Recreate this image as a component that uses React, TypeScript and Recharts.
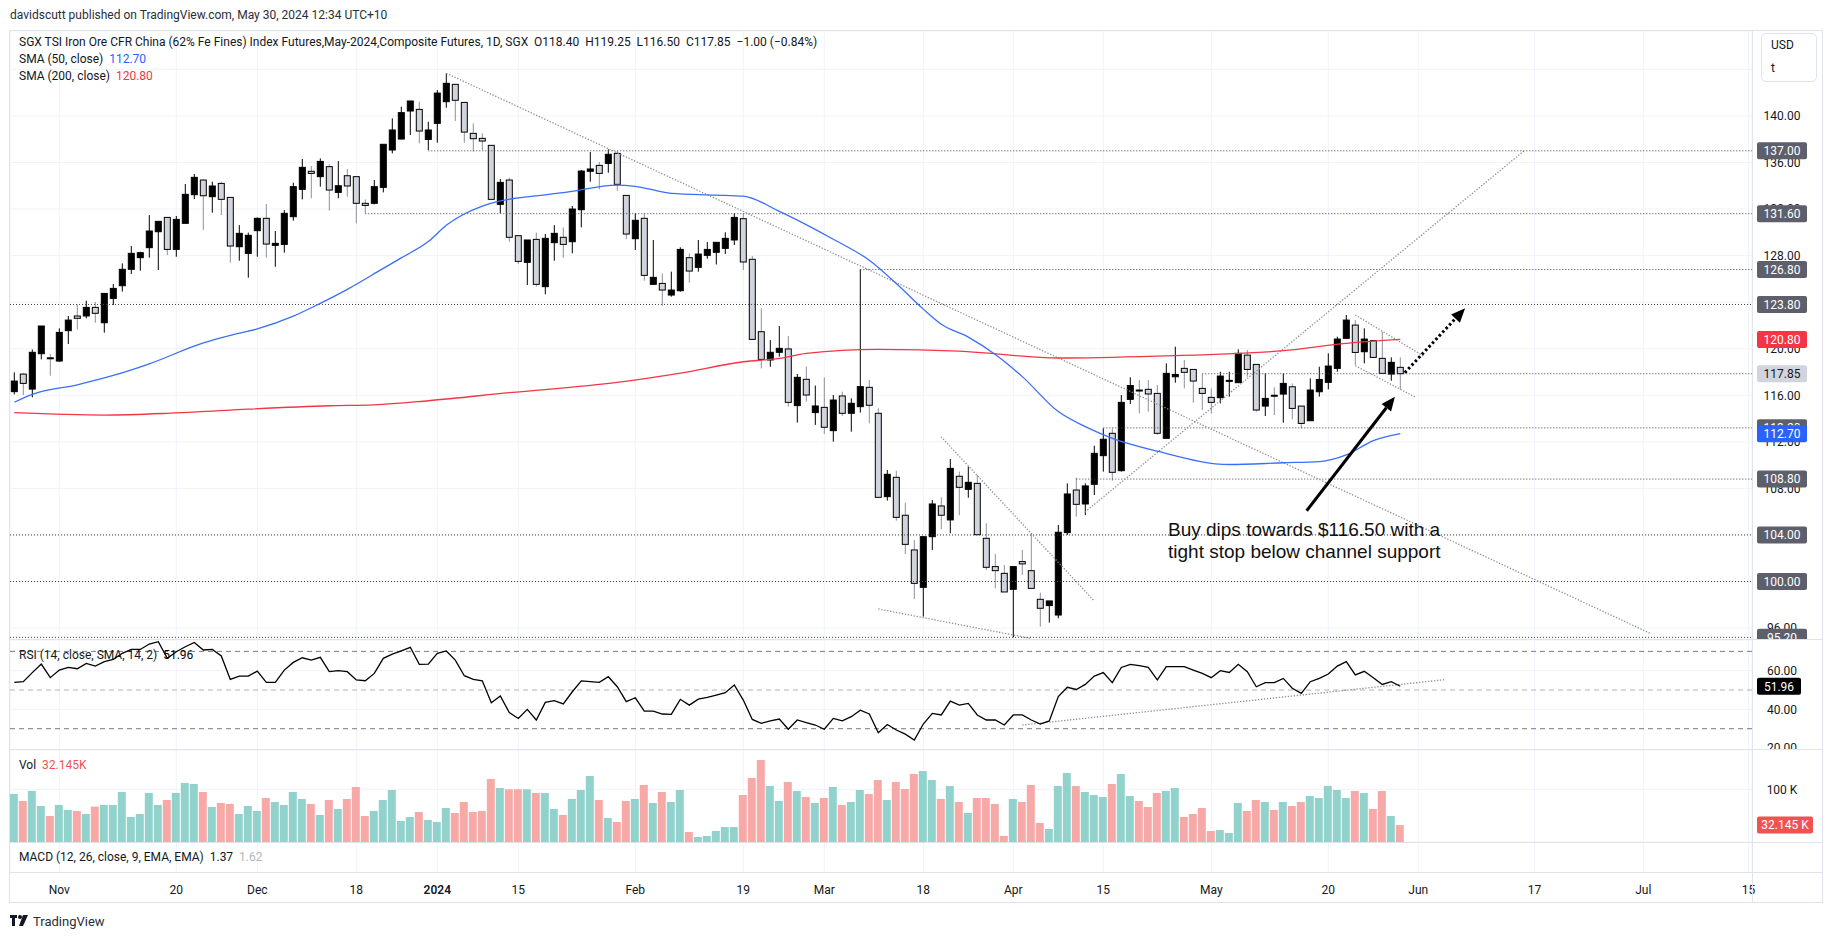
import React from "react";
import { ComposedChart, Bar, Line, XAxis, YAxis, CartesianGrid, ReferenceLine, Cell } from "recharts";

const FONT = "Roboto, 'Liberation Sans', Arial, sans-serif";
const TEXT = "#131722";
const GRID = "#f0f3fa";
const BORDER = "#e0e3eb";

// ---- daily bars, Oct 25 2023 .. May 30 2024 (index 0..154) ----
const OPEN = [
  116.31, 117.82, 116.53, 119.57, 119.22, 118.94, 121.55, 122.81, 122.81, 123.55,
  122.23, 124.32, 125.41, 126.82, 127.82, 128.68, 130.05, 131.28, 128.53, 130.77,
  133.23, 134.49, 133.06, 134.2, 133.0, 128.76, 128.19, 130.14, 131.2, 128.88,
  128.96, 131.34, 133.69, 135.24, 134.78, 135.64, 133.43, 134.86, 134.78, 132.49,
  132.49, 133.86, 137.07, 138.01, 140.42, 140.56, 137.98, 139.36, 141.22, 142.71,
  141.16, 138.5, 138.07, 137.47, 132.4, 134.49, 129.71, 127.42, 129.39, 125.33,
  129.11, 129.57, 129.19, 131.94, 135.24, 135.75, 135.92, 136.78, 133.17, 129.45,
  131.2, 125.53, 125.61, 124.61, 124.98, 127.82, 126.99, 128.02, 128.28, 128.62,
  129.34, 131.17, 127.68, 121.46, 119.03, 119.69, 119.98, 115.11, 117.37, 114.51,
  114.96, 112.96, 115.94, 114.45, 115.02, 116.68, 114.45, 107.29, 108.95, 105.69,
  102.71, 99.5, 103.85, 106.49, 105.29, 109.04, 107.92, 108.43, 103.71, 101.28,
  100.7, 99.33, 101.71, 100.93, 98.47, 97.93, 97.12, 104.2, 107.86, 106.66,
  108.35, 110.81, 112.73, 109.52, 115.65, 116.45, 116.51, 116.16, 112.3, 117.59,
  118.31, 118.22, 116.59, 115.82, 115.79, 117.22, 117.08, 119.45, 118.65, 115.07,
  116.0, 116.1, 116.73, 115.07, 113.81, 116.3, 117.11, 118.31, 120.89, 122.03,
  119.74, 120.69, 119.17, 117.82, 118.4,
];
const HIGH = [
  117.97, 117.9, 119.94, 121.95, 119.54, 121.75, 122.81, 123.81, 124.12, 124.01,
  124.75, 125.56, 127.33, 128.82, 128.33, 131.48, 130.94, 131.28, 131.4, 134.15,
  135.01, 134.55, 134.35, 134.35, 133.0, 130.62, 129.97, 131.28, 132.43, 130.11,
  131.91, 134.26, 136.3, 135.69, 136.35, 135.84, 136.12, 135.44, 134.78, 132.83,
  134.49, 137.56, 139.79, 140.79, 141.28, 141.22, 139.5, 142.22, 143.65, 142.71,
  141.16, 139.36, 138.5, 137.47, 134.58, 134.69, 129.71, 129.34, 129.97, 129.85,
  130.62, 130.42, 132.26, 135.35, 136.9, 136.04, 137.13, 136.98, 133.17, 131.63,
  131.63, 129.34, 126.47, 126.62, 128.71, 128.19, 129.34, 129.16, 129.14, 130.0,
  131.63, 131.63, 127.96, 123.47, 120.74, 121.95, 121.09, 117.83, 118.46, 116.83,
  117.54, 116.02, 116.31, 115.74, 126.82, 117.31, 114.88, 109.58, 109.52, 106.77,
  103.57, 103.85, 107.0, 107.23, 110.53, 109.44, 109.87, 109.15, 105.0, 102.36,
  101.42, 101.28, 102.71, 104.14, 99.04, 98.33, 104.86, 108.43, 108.92, 108.43,
  111.67, 113.16, 113.16, 116.02, 117.54, 117.31, 117.31, 116.88, 118.74, 120.17,
  119.03, 118.22, 117.82, 116.59, 118.02, 118.02, 119.94, 119.88, 118.65, 117.88,
  116.68, 117.88, 117.02, 115.07, 117.45, 118.45, 119.6, 121.03, 122.89, 122.46,
  121.75, 120.74, 121.46, 119.25, 119.25,
];
const LOW = [
  116.08, 116.02, 115.82, 119.08, 117.68, 118.88, 120.4, 121.66, 122.61, 122.23,
  121.38, 123.75, 124.9, 126.42, 126.7, 127.82, 126.76, 128.05, 127.9, 130.77,
  132.86, 130.2, 131.68, 131.48, 127.39, 127.56, 126.1, 127.9, 127.82, 127.04,
  128.25, 131.0, 132.83, 132.92, 133.92, 131.86, 132.92, 133.06, 130.77, 131.63,
  132.4, 133.43, 136.78, 138.01, 138.36, 137.64, 137.07, 137.7, 140.7, 139.56,
  137.7, 136.93, 137.07, 132.83, 131.63, 129.19, 127.27, 125.47, 125.33, 124.67,
  127.56, 127.82, 128.19, 130.42, 134.35, 133.69, 135.12, 133.57, 129.42, 128.48,
  125.84, 125.53, 123.69, 124.47, 124.9, 125.67, 126.62, 127.73, 127.24, 128.13,
  128.91, 126.76, 120.8, 118.31, 118.45, 119.32, 115.02, 113.65, 115.45, 113.45,
  112.67, 112.01, 114.22, 112.87, 114.51, 113.59, 107.23, 106.95, 105.23, 102.36,
  98.5, 96.98, 102.71, 104.48, 104.14, 105.71, 107.2, 104.02, 100.99, 99.41,
  99.1, 95.2, 100.56, 99.41, 96.12, 96.47, 96.84, 104.0, 105.57, 105.71,
  107.43, 109.44, 108.66, 109.44, 115.25, 114.45, 114.59, 112.6, 112.3, 117.08,
  116.59, 115.36, 114.73, 114.44, 115.3, 115.88, 117.08, 117.59, 114.59, 114.22,
  114.3, 113.64, 113.93, 113.15, 113.81, 115.88, 116.51, 118.02, 120.89, 118.6,
  118.74, 119.25, 117.88, 117.25, 116.5,
];
const CLOSE = [
  117.22, 117.02, 119.69, 121.95, 119.15, 121.4, 122.46, 122.61, 123.55, 123.04,
  124.75, 125.18, 126.82, 128.19, 128.25, 130.11, 130.94, 128.53, 131.11, 133.26,
  134.72, 133.14, 133.98, 132.83, 128.82, 129.91, 129.74, 131.2, 128.99, 129.05,
  131.63, 133.92, 135.58, 135.06, 136.09, 133.63, 134.0, 133.98, 132.49, 132.31,
  133.92, 137.56, 138.79, 140.28, 141.28, 138.7, 138.79, 141.96, 142.8, 141.34,
  138.61, 138.04, 137.84, 132.83, 134.29, 129.57, 127.5, 129.34, 125.53, 129.48,
  129.91, 128.96, 132.0, 135.26, 135.44, 135.06, 136.7, 134.12, 129.85, 131.03,
  126.3, 126.13, 125.04, 125.04, 128.53, 126.67, 128.13, 128.53, 129.14, 129.48,
  131.28, 127.45, 120.8, 119.08, 119.69, 120.03, 115.39, 117.54, 116.02, 115.08,
  113.25, 115.59, 114.45, 115.31, 116.74, 115.14, 107.23, 109.21, 105.51, 103.19,
  99.84, 103.85, 106.66, 105.69, 109.72, 108.09, 108.52, 104.02, 101.22, 100.93,
  99.1, 101.28, 101.51, 99.41, 97.7, 98.33, 104.23, 107.52, 106.63, 108.21,
  111.01, 112.22, 109.38, 115.39, 116.83, 116.4, 116.11, 112.73, 117.88, 117.79,
  117.97, 117.22, 116.16, 115.39, 117.65, 117.28, 119.6, 118.22, 114.73, 115.73,
  115.93, 117.02, 114.87, 113.58, 116.45, 117.36, 118.51, 120.83, 122.46, 119.68,
  120.83, 119.25, 117.88, 118.83, 117.85,
];
// volume in thousands
const VOLUME = [
  91.1, 77.8, 96.8, 68.4, 49.4, 70.3, 60.8, 58.9, 53.2, 67.1,
  70.3, 70.3, 94.9, 47.5, 53.2, 93.0, 70.3, 79.7, 93.0, 112.0,
  110.1, 94.9, 66.5, 74.1, 72.2, 53.2, 68.4, 58.9, 83.5, 75.9,
  70.3, 94.9, 81.6, 72.2, 51.3, 79.7, 62.7, 81.6, 104.4, 49.4,
  58.9, 79.7, 98.7, 39.9, 47.5, 57.0, 41.8, 38.0, 64.6, 55.1,
  75.9, 57.0, 58.9, 119.6, 102.5, 100.0, 100.0, 100.0, 93.0, 93.0,
  62.7, 51.3, 81.6, 98.7, 125.3, 79.7, 45.6, 38.0, 77.8, 81.6,
  108.2, 74.1, 94.9, 75.9, 98.7, 19.0, 9.5, 11.4, 20.9, 28.5,
  28.5, 89.2, 121.5, 155.7, 106.3, 77.8, 113.9, 96.8, 85.4, 74.1,
  83.5, 104.4, 70.3, 75.9, 98.7, 91.1, 117.7, 79.7, 113.9, 100.6,
  129.1, 134.8, 117.7, 81.6, 106.3, 75.9, 55.1, 83.5, 83.5, 72.2,
  11.4, 81.6, 75.9, 108.2, 36.1, 24.7, 106.3, 131.0, 106.3, 94.9,
  89.2, 85.4, 110.1, 129.1, 87.3, 77.8, 66.5, 93.0, 96.8, 102.5,
  47.5, 53.2, 64.6, 20.9, 22.8, 17.1, 74.1, 58.9, 79.7, 75.9,
  60.8, 75.9, 68.4, 75.9, 87.3, 83.5, 106.3, 98.7, 83.5, 96.8,
  93.0, 62.7, 96.8, 49.4, 32.145,
];
const RSI = [
  54.0, 54.3, 59.0, 63.4, 56.4, 60.3, 61.7, 61.0, 63.8, 62.4,
  64.7, 65.9, 69.0, 71.0, 71.0, 73.8, 75.0, 66.4, 69.8, 72.4,
  74.6, 70.7, 71.0, 67.6, 55.5, 57.2, 57.2, 59.8, 54.0, 54.0,
  60.3, 64.3, 66.7, 65.5, 66.9, 59.5, 60.0, 59.5, 55.2, 54.8,
  58.6, 66.4, 68.6, 70.3, 72.1, 63.3, 63.4, 69.0, 70.2, 65.5,
  57.4, 55.5, 54.8, 43.4, 46.9, 38.3, 35.3, 40.0, 34.5, 43.6,
  44.5, 42.8, 49.1, 54.7, 54.3, 54.0, 56.9, 51.7, 44.0, 46.0,
  39.1, 39.1, 37.6, 37.4, 45.2, 42.2, 45.3, 46.2, 47.4, 48.6,
  52.6, 44.8, 34.8, 32.8, 34.1, 35.0, 29.7, 34.5, 33.1, 31.9,
  29.7, 35.3, 34.1, 36.2, 39.6, 37.6, 27.9, 32.2, 29.3, 27.2,
  24.1, 32.4, 37.9, 37.1, 44.3, 42.2, 43.1, 37.1, 34.5, 34.5,
  31.9, 37.1, 37.1, 34.5, 32.4, 34.0, 46.6, 51.4, 50.3, 52.9,
  57.2, 59.0, 53.8, 61.7, 63.3, 62.6, 61.7, 55.2, 62.1, 62.1,
  62.1, 60.3, 58.6, 56.4, 60.0, 59.1, 63.3, 59.5, 51.7, 53.8,
  53.8, 56.0, 50.9, 48.3, 54.3, 56.0, 58.3, 62.4, 64.7, 57.8,
  59.7, 56.4, 52.9, 54.3, 51.96,
];

// moving averages, read at points along the lines
const SMA50_IDX = [0, 2, 7, 11, 15, 21, 24, 27, 31, 34, 37, 41, 43, 46, 48, 52, 54, 57, 61, 67, 69, 73, 78, 81, 85, 91, 95, 98, 101, 103, 106, 109, 112, 116, 119, 122, 127, 135, 141, 145, 148, 151, 154];
const SMA50_VAL = [115.4, 116.08, 116.9, 117.7, 118.7, 120.5, 121.15, 121.7, 122.8, 123.9, 125.1, 126.9, 127.8, 129.2, 130.6, 132.25, 132.7, 133.05, 133.4, 134.06, 133.95, 133.35, 133.2, 133.1, 131.8, 129.4, 127.6, 125.6, 123.4, 122.1, 121.0, 119.5, 117.6, 114.6, 113.3, 112.3, 111.2, 110.05, 110.2, 110.3, 110.87, 112.1, 112.7];
const SMA200_IDX = [0, 10, 17, 24, 35, 40, 46, 55, 67, 74, 81, 85, 88, 96, 105, 116, 127, 141, 148, 154];
const SMA200_VAL = [114.5, 114.3, 114.45, 114.73, 115.1, 115.18, 115.53, 116.22, 117.1, 117.9, 118.88, 119.17, 119.6, 119.95, 119.8, 119.2, 119.37, 119.83, 120.46, 120.8];

// x axis
const XMIN = -0.478;
const XMAX = 193.078;
const TICK_IDX = [5, 18, 27, 38, 47, 56, 69, 81, 90, 101, 111, 121, 133, 146, 156, 168.9, 181, 192.7];
const TICK_LABELS = ["Nov", "20", "Dec", "18", "2024", "15", "Feb", "19", "Mar", "18", "Apr", "15", "May", "20", "Jun", "17", "Jul", "15"];

// price axis
const PRICE_TICKS = [96, 100, 104, 108, 112, 116, 120, 124, 128, 132, 136, 140, 144];
const LEVEL_PRICE = [137.0, 131.6, 126.8, 123.8, 117.85, 113.2, 108.8, 104.0, 100.0, 95.2];
const LEVEL_FROM = [46, 39, 94, XMIN, 132, 121, 118, XMIN, XMIN, XMIN];

// drawn trend lines: [x1, p1, x2, p2]
const TRENDS = [
  [48.0, 143.66, 181.7, 95.57],
  [118.97, 105.97, 167.86, 137.07],
  [149.0, 122.9, 156.7, 119.31],
  [149.0, 118.54, 155.8, 115.79],
  [102.97, 112.44, 119.9, 98.41],
  [96.0, 97.64, 112.9, 95.12],
];
const ARROW_SOLID = [143.6, 106.08, 153.4, 115.88];
const ARROW_DOTTED = [154.5, 117.94, 161.2, 123.47];
const RSI_TREND = [112, 31.9, 159, 55.4];

const sma50 = new Map(SMA50_IDX.map((k, j) => [k, SMA50_VAL[j]]));
const sma200 = new Map(SMA200_IDX.map((k, j) => [k, SMA200_VAL[j]]));

const data = OPEN.map((o, i) => ({
  i,
  o,
  h: HIGH[i],
  l: LOW[i],
  c: CLOSE[i],
  range: [LOW[i], HIGH[i]],
  s50: sma50.has(i) ? sma50.get(i) : null,
  s200: sma200.has(i) ? sma200.get(i) : null,
  v: VOLUME[i],
  rsi: RSI[i],
}));

const SVG_W = 1812;
const AXIS_W = 70;

function Candle(props: any) {
  const { x, y, width, height, payload } = props;
  if (!payload || x == null) return null;
  const top = height < 0 ? y + height : y;
  const hgt = Math.abs(height);
  const { o, h, l, c } = payload;
  const py = (v: number) => top + ((h - v) / (h - l || 1)) * hgt;
  const up = c >= o;
  const b1 = py(Math.max(o, c));
  const b2 = py(Math.min(o, c));
  const cx = x + width / 2;
  return (
    <g>
      <line x1={cx} x2={cx} y1={top} y2={top + hgt} stroke={up ? "#000" : "#8d9099"} strokeWidth={1} />
      <rect x={x + 0.5} y={b1} width={width - 1} height={Math.max(b2 - b1, 1)} fill={up ? "#000" : "#d1d4dc"} stroke="#000" strokeWidth={1} />
    </g>
  );
}

function axisTag(text: string, bg: string | null, fg: string, w = 50) {
  return (p: any) => {
    const vb = p.viewBox || {};
    const right = (vb.x || 0) + (vb.width || 0);
    const y = vb.y || 0;
    return (
      <g>
        {bg ? <rect x={right + 5} y={y - 8.5} width={w} height={17} rx={2} fill={bg} /> : null}
        <text x={right + 5 + w / 2} y={y + 4.3} textAnchor="middle" fontSize={12} fontFamily={FONT} fill={fg}>
          {text}
        </text>
      </g>
    );
  };
}

function arrowShape(dashed: boolean) {
  return (p: any) => {
    const { x1, y1, x2, y2 } = p;
    const ang = Math.atan2(y2 - y1, x2 - x1);
    const len = 14;
    const half = 6;
    const bx = x2 - len * Math.cos(ang);
    const by = y2 - len * Math.sin(ang);
    const nx = -Math.sin(ang) * half;
    const ny = Math.cos(ang) * half;
    return (
      <g>
        <line x1={x1} y1={y1} x2={bx} y2={by} stroke="#000" strokeWidth={3} strokeDasharray={dashed ? "2.5 2.5" : undefined} />
        <polygon points={`${x2},${y2} ${bx + nx},${by + ny} ${bx - nx},${by - ny}`} fill="#000" />
      </g>
    );
  };
}

function PriceChart() {
  return (
    <ComposedChart width={SVG_W} height={609} data={data} margin={{ top: 0, right: AXIS_W, bottom: 0, left: 0 }}>
      <CartesianGrid stroke={GRID} />
      <XAxis type="number" dataKey="i" domain={[XMIN, XMAX]} ticks={TICK_IDX} allowDataOverflow hide />
      <YAxis type="number" domain={[94.974, 147.294]} ticks={PRICE_TICKS} allowDataOverflow hide />
      {LEVEL_PRICE.map((p, k) => (
        <ReferenceLine key={"lv" + k} segment={[{ x: LEVEL_FROM[k], y: p }, { x: XMAX, y: p }]} stroke="#3d3f46" strokeWidth={1} strokeDasharray="1 2" ifOverflow="hidden" />
      ))}
      {TRENDS.map((t, k) => (
        <ReferenceLine key={"tr" + k} segment={[{ x: t[0], y: t[1] }, { x: t[2], y: t[3] }]} stroke="#8a8d96" strokeWidth={1.3} strokeDasharray="1.3 1.7" ifOverflow="hidden" />
      ))}
      <Line type="monotone" dataKey="s200" stroke="#f23645" strokeWidth={1.3} dot={false} connectNulls isAnimationActive={false} />
      <Line type="monotone" dataKey="s50" stroke="#3a6ff7" strokeWidth={1.3} dot={false} connectNulls isAnimationActive={false} />
      <Bar dataKey="range" barSize={7} shape={(p: any) => <Candle {...p} />} isAnimationActive={false} />
      <ReferenceLine segment={[{ x: ARROW_SOLID[0], y: ARROW_SOLID[1] }, { x: ARROW_SOLID[2], y: ARROW_SOLID[3] }]} shape={arrowShape(false)} ifOverflow="visible" />
      <ReferenceLine segment={[{ x: ARROW_DOTTED[0], y: ARROW_DOTTED[1] }, { x: ARROW_DOTTED[2], y: ARROW_DOTTED[3] }]} shape={arrowShape(true)} ifOverflow="visible" />
      {PRICE_TICKS.map((v) => (
        <ReferenceLine key={"pt" + v} y={v} stroke="none" label={axisTag(v.toFixed(2), null, TEXT)} />
      ))}
      <ReferenceLine y={137.0} stroke="none" label={axisTag("137.00", "#5d606b", "#fff")} />
      <ReferenceLine y={131.6} stroke="none" label={axisTag("131.60", "#5d606b", "#fff")} />
      <ReferenceLine y={126.8} stroke="none" label={axisTag("126.80", "#5d606b", "#fff")} />
      <ReferenceLine y={123.8} stroke="none" label={axisTag("123.80", "#5d606b", "#fff")} />
      <ReferenceLine y={120.8} stroke="none" label={axisTag("120.80", "#f23645", "#fff")} />
      <ReferenceLine y={117.85} stroke="none" label={axisTag("117.85", "#d1d4dc", TEXT)} />
      <ReferenceLine y={113.2} stroke="none" label={axisTag("113.20", "#5d606b", "#fff")} />
      <ReferenceLine y={112.7} stroke="none" label={axisTag("112.70", "#2962ff", "#fff")} />
      <ReferenceLine y={108.8} stroke="none" label={axisTag("108.80", "#5d606b", "#fff")} />
      <ReferenceLine y={104.0} stroke="none" label={axisTag("104.00", "#5d606b", "#fff")} />
      <ReferenceLine y={100.0} stroke="none" label={axisTag("100.00", "#5d606b", "#fff")} />
      <ReferenceLine y={95.2} stroke="none" label={axisTag("95.20", "#5d606b", "#fff")} />
    </ComposedChart>
  );
}

function RsiChart() {
  return (
    <ComposedChart width={SVG_W} height={110} data={data} margin={{ top: 0, right: AXIS_W, bottom: 0, left: 0 }}>
      <CartesianGrid stroke={GRID} />
      <XAxis type="number" dataKey="i" domain={[XMIN, XMAX]} ticks={TICK_IDX} allowDataOverflow hide />
      <YAxis type="number" domain={[18.98, 75.88]} ticks={[20, 40, 60]} allowDataOverflow hide />
      <ReferenceLine y={70} stroke="#787b86" strokeDasharray="5 4" />
      <ReferenceLine y={50} stroke="#b2b5be" strokeDasharray="5 4" />
      <ReferenceLine y={30} stroke="#787b86" strokeDasharray="5 4" />
      <ReferenceLine segment={[{ x: RSI_TREND[0], y: RSI_TREND[1] }, { x: RSI_TREND[2], y: RSI_TREND[3] }]} stroke="#8a8d96" strokeWidth={1.3} strokeDasharray="1.3 1.7" ifOverflow="hidden" />
      <Line dataKey="rsi" stroke="#000" strokeWidth={1.3} dot={false} isAnimationActive={false} />
      {[20, 40, 60].map((v) => (
        <ReferenceLine key={"rt" + v} y={v} stroke="none" label={axisTag(v.toFixed(2), null, TEXT)} />
      ))}
      <ReferenceLine y={51.96} stroke="none" label={axisTag("51.96", "#000", "#fff", 44)} />
    </ComposedChart>
  );
}

function VolumeChart() {
  return (
    <ComposedChart width={SVG_W} height={92} data={data} margin={{ top: 0, right: AXIS_W, bottom: 0, left: 0 }}>
      <CartesianGrid stroke={GRID} />
      <XAxis type="number" dataKey="i" domain={[XMIN, XMAX]} ticks={TICK_IDX} allowDataOverflow hide />
      <YAxis type="number" domain={[0, 174.6]} ticks={[100]} allowDataOverflow hide />
      <Bar dataKey="v" barSize={8} isAnimationActive={false}>
        {data.map((d) => (
          <Cell key={d.i} fill={d.c >= d.o ? "#92d2cc" : "#f7a9a7"} />
        ))}
      </Bar>
      <ReferenceLine y={100} stroke="none" label={axisTag("100 K", null, TEXT)} />
      <ReferenceLine y={32.145} stroke="none" label={axisTag("32.145 K", "#ef5350", "#fff", 56)} />
    </ComposedChart>
  );
}

function BottomChart() {
  return (
    <ComposedChart width={SVG_W} height={59} data={data} margin={{ top: 0, right: AXIS_W, bottom: 0, left: 0 }}>
      <CartesianGrid stroke={GRID} horizontal={false} />
      <XAxis
        type="number"
        dataKey="i"
        domain={[XMIN, XMAX]}
        ticks={TICK_IDX}
        interval={0}
        allowDataOverflow
        height={30}
        axisLine={false}
        tickLine={false}
        tickSize={0}
        tickMargin={0}
        tick={(p: any) => {
          const k = TICK_IDX.indexOf(p.payload.value);
          const lab = TICK_LABELS[k] ?? "";
          return (
            <text x={p.x} y={p.y + 22} textAnchor="middle" fontSize={12} fontFamily={FONT} fill={TEXT} fontWeight={lab === "2024" ? 600 : 400}>
              {lab}
            </text>
          );
        }}
      />
      <YAxis type="number" domain={[0, 200]} hide />
      <Line dataKey="c" stroke="none" dot={false} isAnimationActive={false} />
    </ComposedChart>
  );
}

function T({ x, y, size = 12, color = TEXT, children, family = FONT }: any) {
  return (
    <div style={{ position: "absolute", left: x, top: y - size * 0.62, fontSize: size, lineHeight: `${Math.round(size * 1.25)}px`, color, whiteSpace: "nowrap", fontFamily: family }}>
      {children}
    </div>
  );
}

function Hr({ y }: { y: number }) {
  return <div style={{ position: "absolute", left: 10, top: y, width: 1812, height: 1, background: BORDER }} />;
}

export default function App() {
  return (
    <div style={{ position: "absolute", left: 0, top: 0, width: 1835, height: 939, background: "#fff", overflow: "hidden", fontFamily: FONT }}>
      <T x={10} y={15} color="#2a2e39">davidscutt published on TradingView.com, May 30, 2024 12:34 UTC+10</T>

      <div style={{ position: "absolute", left: 10, top: 31 }}><PriceChart /></div>
      <div style={{ position: "absolute", left: 10, top: 640 }}><RsiChart /></div>
      <div style={{ position: "absolute", left: 10, top: 750 }}><VolumeChart /></div>
      <div style={{ position: "absolute", left: 10, top: 843 }}><BottomChart /></div>

      <div style={{ position: "absolute", left: 9, top: 30, width: 1814, height: 873, border: `1px solid ${BORDER}`, boxSizing: "border-box" }} />
      <Hr y={639} />
      <Hr y={749} />
      <Hr y={842} />
      <Hr y={872} />
      <div style={{ position: "absolute", left: 1752, top: 31, width: 1, height: 871, background: BORDER }} />

      <T x={19} y={42.5}>
        SGX TSI Iron Ore CFR China (62% Fe Fines) Index Futures,May-2024,Composite Futures, 1D, SGX&nbsp;&nbsp;O118.40&nbsp;&nbsp;H119.25&nbsp;&nbsp;L116.50&nbsp;&nbsp;C117.85&nbsp;&nbsp;−1.00 (−0.84%)
      </T>
      <T x={19} y={59}>
        SMA (50, close)&nbsp;&nbsp;<span style={{ color: "#2962ff" }}>112.70</span>
      </T>
      <T x={19} y={76}>
        SMA (200, close)&nbsp;&nbsp;<span style={{ color: "#f23645" }}>120.80</span>
      </T>

      <div style={{ position: "absolute", left: 1761, top: 33, width: 56, height: 49, border: `1px solid ${BORDER}`, borderRadius: 5, background: "#fff", boxSizing: "border-box" }} />
      <T x={1771} y={45}>USD</T>
      <T x={1771} y={68}>t</T>

      <T x={1168} y={530} size={19} family="'Liberation Sans', Arial, sans-serif" color="#111">Buy dips towards $116.50 with a</T>
      <T x={1168} y={552} size={19} family="'Liberation Sans', Arial, sans-serif" color="#111">tight stop below channel support</T>

      <T x={19} y={655}>
        RSI (14, close, SMA, 14, 2)&nbsp;&nbsp;<span style={{ color: "#000" }}>51.96</span>
      </T>
      <T x={19} y={765}>
        Vol&nbsp;&nbsp;<span style={{ color: "#ef5350" }}>32.145K</span>
      </T>
      <T x={19} y={857}>
        MACD (12, 26, close, 9, EMA, EMA)&nbsp;&nbsp;1.37&nbsp;&nbsp;<span style={{ color: "#b2b5be" }}>1.62</span>
      </T>

      <svg style={{ position: "absolute", left: 10, top: 915 }} width={20} height={12} viewBox="0 0 20 12">
        <path d="M0 0h7v3H5v8H2V3H0z" fill="#131722" />
        <circle cx={10} cy={2} r={2} fill="#131722" />
        <path d="M13 0h5l-5 11h-4z" fill="#131722" />
      </svg>
      <T x={33} y={922} size={13} color="#2a2e39">TradingView</T>
    </div>
  );
}
